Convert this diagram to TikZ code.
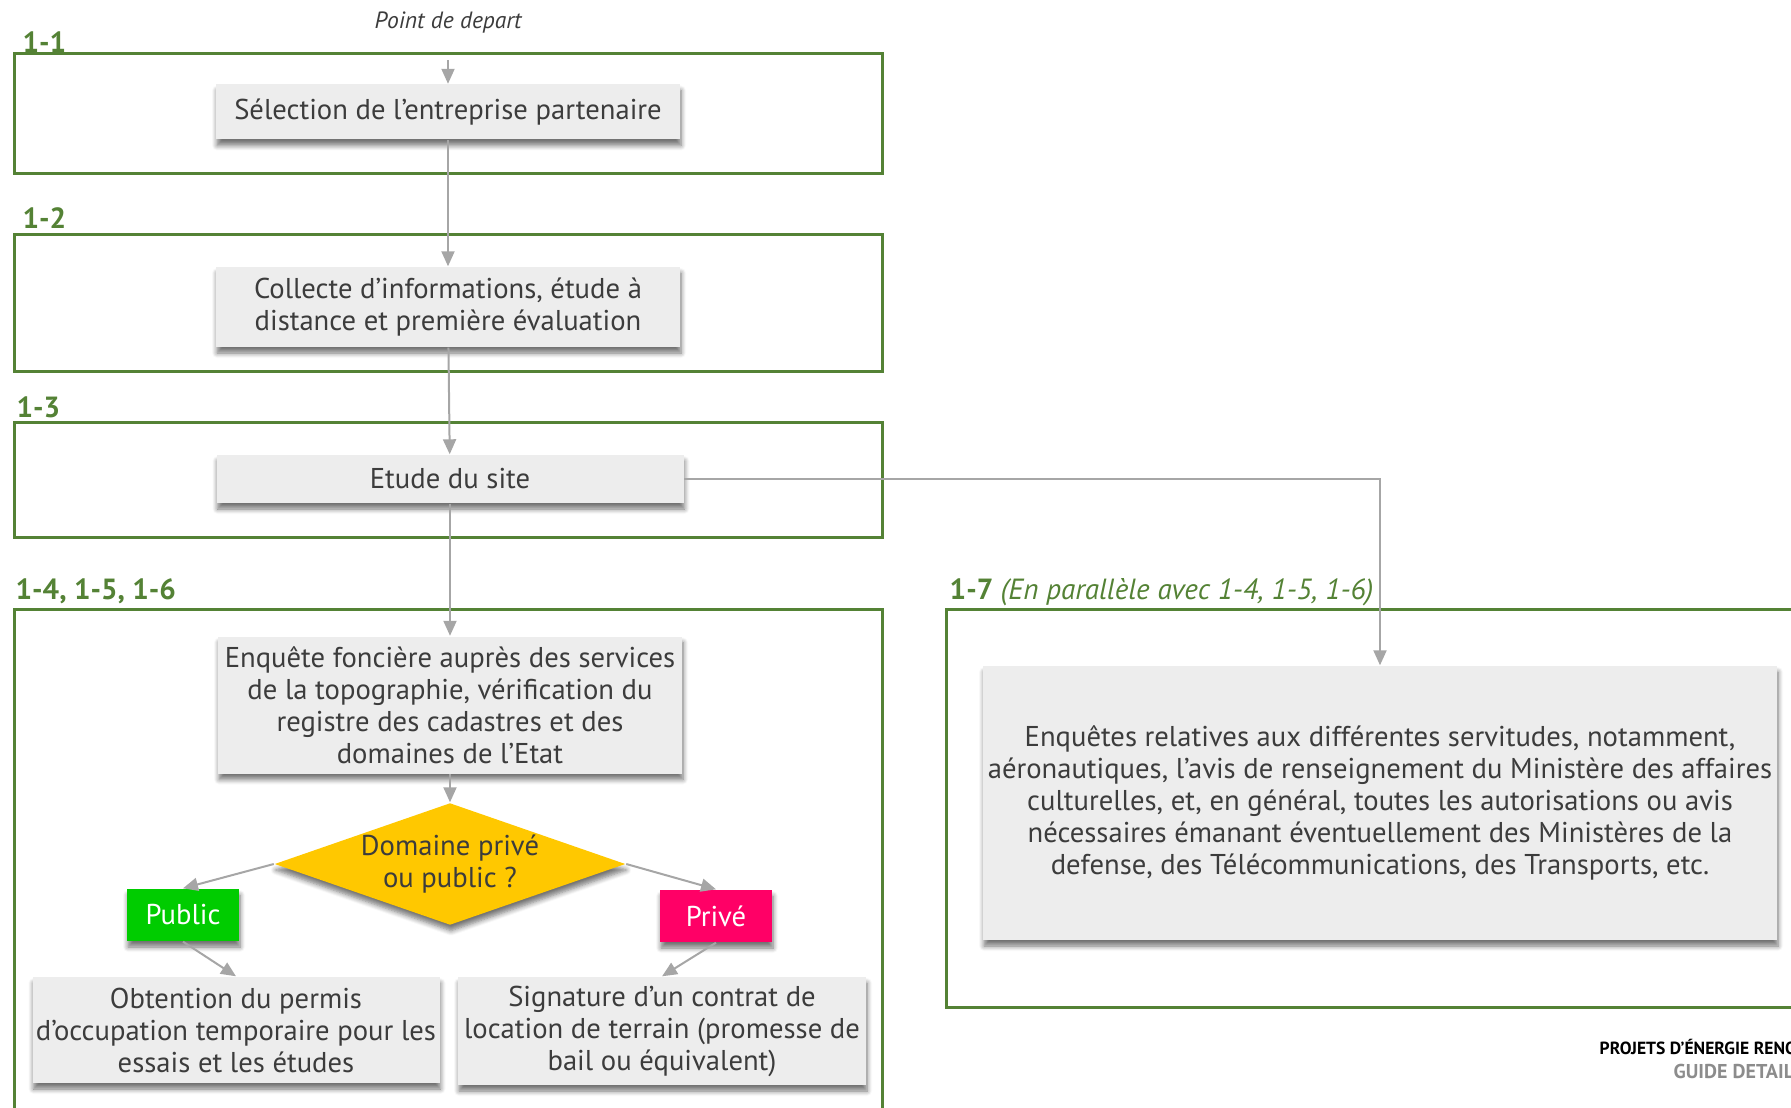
\documentclass[tikz,border=0pt]{standalone}
\usepackage{fontspec}
\setmainfont{PT Sans}
\usetikzlibrary{arrows.meta, positioning, shapes.geometric, shadows.blur}
\usepackage{xcolor}
\definecolor{framegreen}{RGB}{84,130,53}
\definecolor{boxgray}{RGB}{237,237,237}
\definecolor{txtgray}{RGB}{60,60,60}
\definecolor{arrowgray}{RGB}{166,166,166}
\definecolor{decgold}{RGB}{255,200,0}
\definecolor{pubgreen}{RGB}{0,204,0}
\definecolor{privpink}{RGB}{255,0,102}
\definecolor{footgray}{RGB}{140,140,140}
\newcommand{\mainfont}{\fontsize{8.15}{9.1}\selectfont}
\tikzset{
  frame/.style    = {draw=framegreen, line width=0.3mm, inner sep=0pt},
  tag/.style      = {anchor=base west, inner sep=0pt, text=framegreen,
                     font=\bfseries\fontsize{8.3}{9}\selectfont},
  shade/.style    = {blur shadow={shadow xshift=0.1mm, shadow yshift=-0.6mm,
                     shadow blur steps=6, shadow blur radius=0.5mm, shadow opacity=55}},
  box/.style      = {fill=boxgray, text=txtgray, align=center, inner xsep=0.3pt,
                     inner ysep=2pt, font=\mainfont, shade},
  decision/.style = {diamond, aspect=2.9, fill=decgold, text=txtgray, align=center,
                     inner sep=0pt, minimum width=35.1mm, minimum height=12.2mm,
                     font=\mainfont, shade},
  choice/.style   = {text=white, minimum width=11.2mm, minimum height=5.2mm,
                     inner sep=0pt, font=\mainfont, shade},
  arrow/.style    = {-{Triangle[length=1.5mm, width=1.3mm]}, line width=0.2mm,
                     draw=arrowgray},
  foot/.style     = {anchor=base west, inner sep=0pt, font=\bfseries},
}

\begin{document}
\begin{tikzpicture}[x=0.1mm, y=-0.1mm]
  \useasboundingbox (0,0) rectangle (1791,1108);
  \clip (0,0) rectangle (1791,1108);

  % step frames
  \foreach \n/\cx/\cy/\w/\h in {11/448/114/868/120, 12/448/303.5/868/137,
                                13/448/480/868/114, 14/448/864.5/868/511,
                                17/1373/808/854/398} {
    \node[frame, minimum width=\w*0.1mm, minimum height=\h*0.1mm] (f\n) at (\cx,\cy) {};
  }

  % step tags
  \node[tag] (t11) at (22,53)  {1-1};
  \node[tag] (t12) at (22,229) {1-2};
  \node[tag] (t13) at (16,417) {1-3};
  \node[tag] (t14) at (15,599) {1-4, 1-5, 1-6};
  \node[tag] (t17) at (949,599) {1-7 {\mdseries\itshape (En parallèle avec 1-4, 1-5, 1-6)}};

  % process boxes
  \node[text=txtgray, font=\itshape\fontsize{6.7}{7}\selectfont] (start) at (448,23) {Point de depart};
  \node[box, minimum width=46.4mm, minimum height=5.5mm] (sel) at (448,112)
    {Sélection de l’entreprise partenaire};
  \node[box, minimum width=46.4mm, minimum height=8mm] (coll) at (448,307)
    {Collecte d’informations, étude à\\distance et première évaluation};
  \node[box, minimum width=46.7mm, minimum height=4.8mm] (site) at (450,479)
    {Etude du site};
  \node[box, minimum width=46.4mm, minimum height=13.7mm] (fonc) at (450,705)
    {Enquête foncière auprès des services\\de la topographie, vérification du\\registre des cadastres et des\\domaines de l'Etat};
  \node[decision] (dom) at (450,864) {Domaine privé\\ou public ?};
  \node[choice, fill=pubgreen] (pub) at (183,915) {Public};
  \node[choice, fill=privpink] (priv) at (716,916) {Privé};
  \node[box, minimum width=40.7mm, minimum height=10.6mm] (obt) at (236,1030)
    {Obtention du permis\\d’occupation temporaire pour les\\essais et les études};
  \node[box, minimum width=40.8mm, minimum height=10.8mm] (sig) at (662,1031)
    {Signature d’un contrat de\\location de terrain (promesse de\\bail ou équivalent)};
  \node[box, minimum width=79.4mm, minimum height=27.4mm] (serv) at (1380,803)
    {Enquêtes relatives aux différentes servitudes, notamment,\\aéronautiques, l’avis de renseignement du Ministère des affaires\\culturelles, et, en général, toutes les autorisations ou avis\\nécessaires émanant éventuellement des Ministères de la\\defense, des Télécommunications, des Transports, etc.};

  % connectors
  \draw[arrow, shorten <=1.4mm] (start) -- (sel);
  \draw[arrow] (sel) -- (coll);
  \draw[arrow] (coll) -- (site);
  \draw[arrow] (site) -- (fonc);
  \draw[arrow] (site.east) -| (serv.north);
  \draw[arrow] (fonc) -- (dom);
  \draw[arrow] (dom.west) -- (pub.north);
  \draw[arrow] (dom.east) -- (priv.north);
  \draw[arrow] (pub.south) -- (obt.north);
  \draw[arrow] (priv.south) -- (sig.north);

  % footer
  \node[foot, font=\bfseries\fontsize{5}{6}\selectfont] (foot1) at (1599,1054) {PROJETS D’ÉNERGIE RENO};
  \node[foot, text=footgray, font=\bfseries\fontsize{5.7}{6}\selectfont] (foot2) at (1673,1078) {GUIDE DETAIL};
\end{tikzpicture}
\end{document}
